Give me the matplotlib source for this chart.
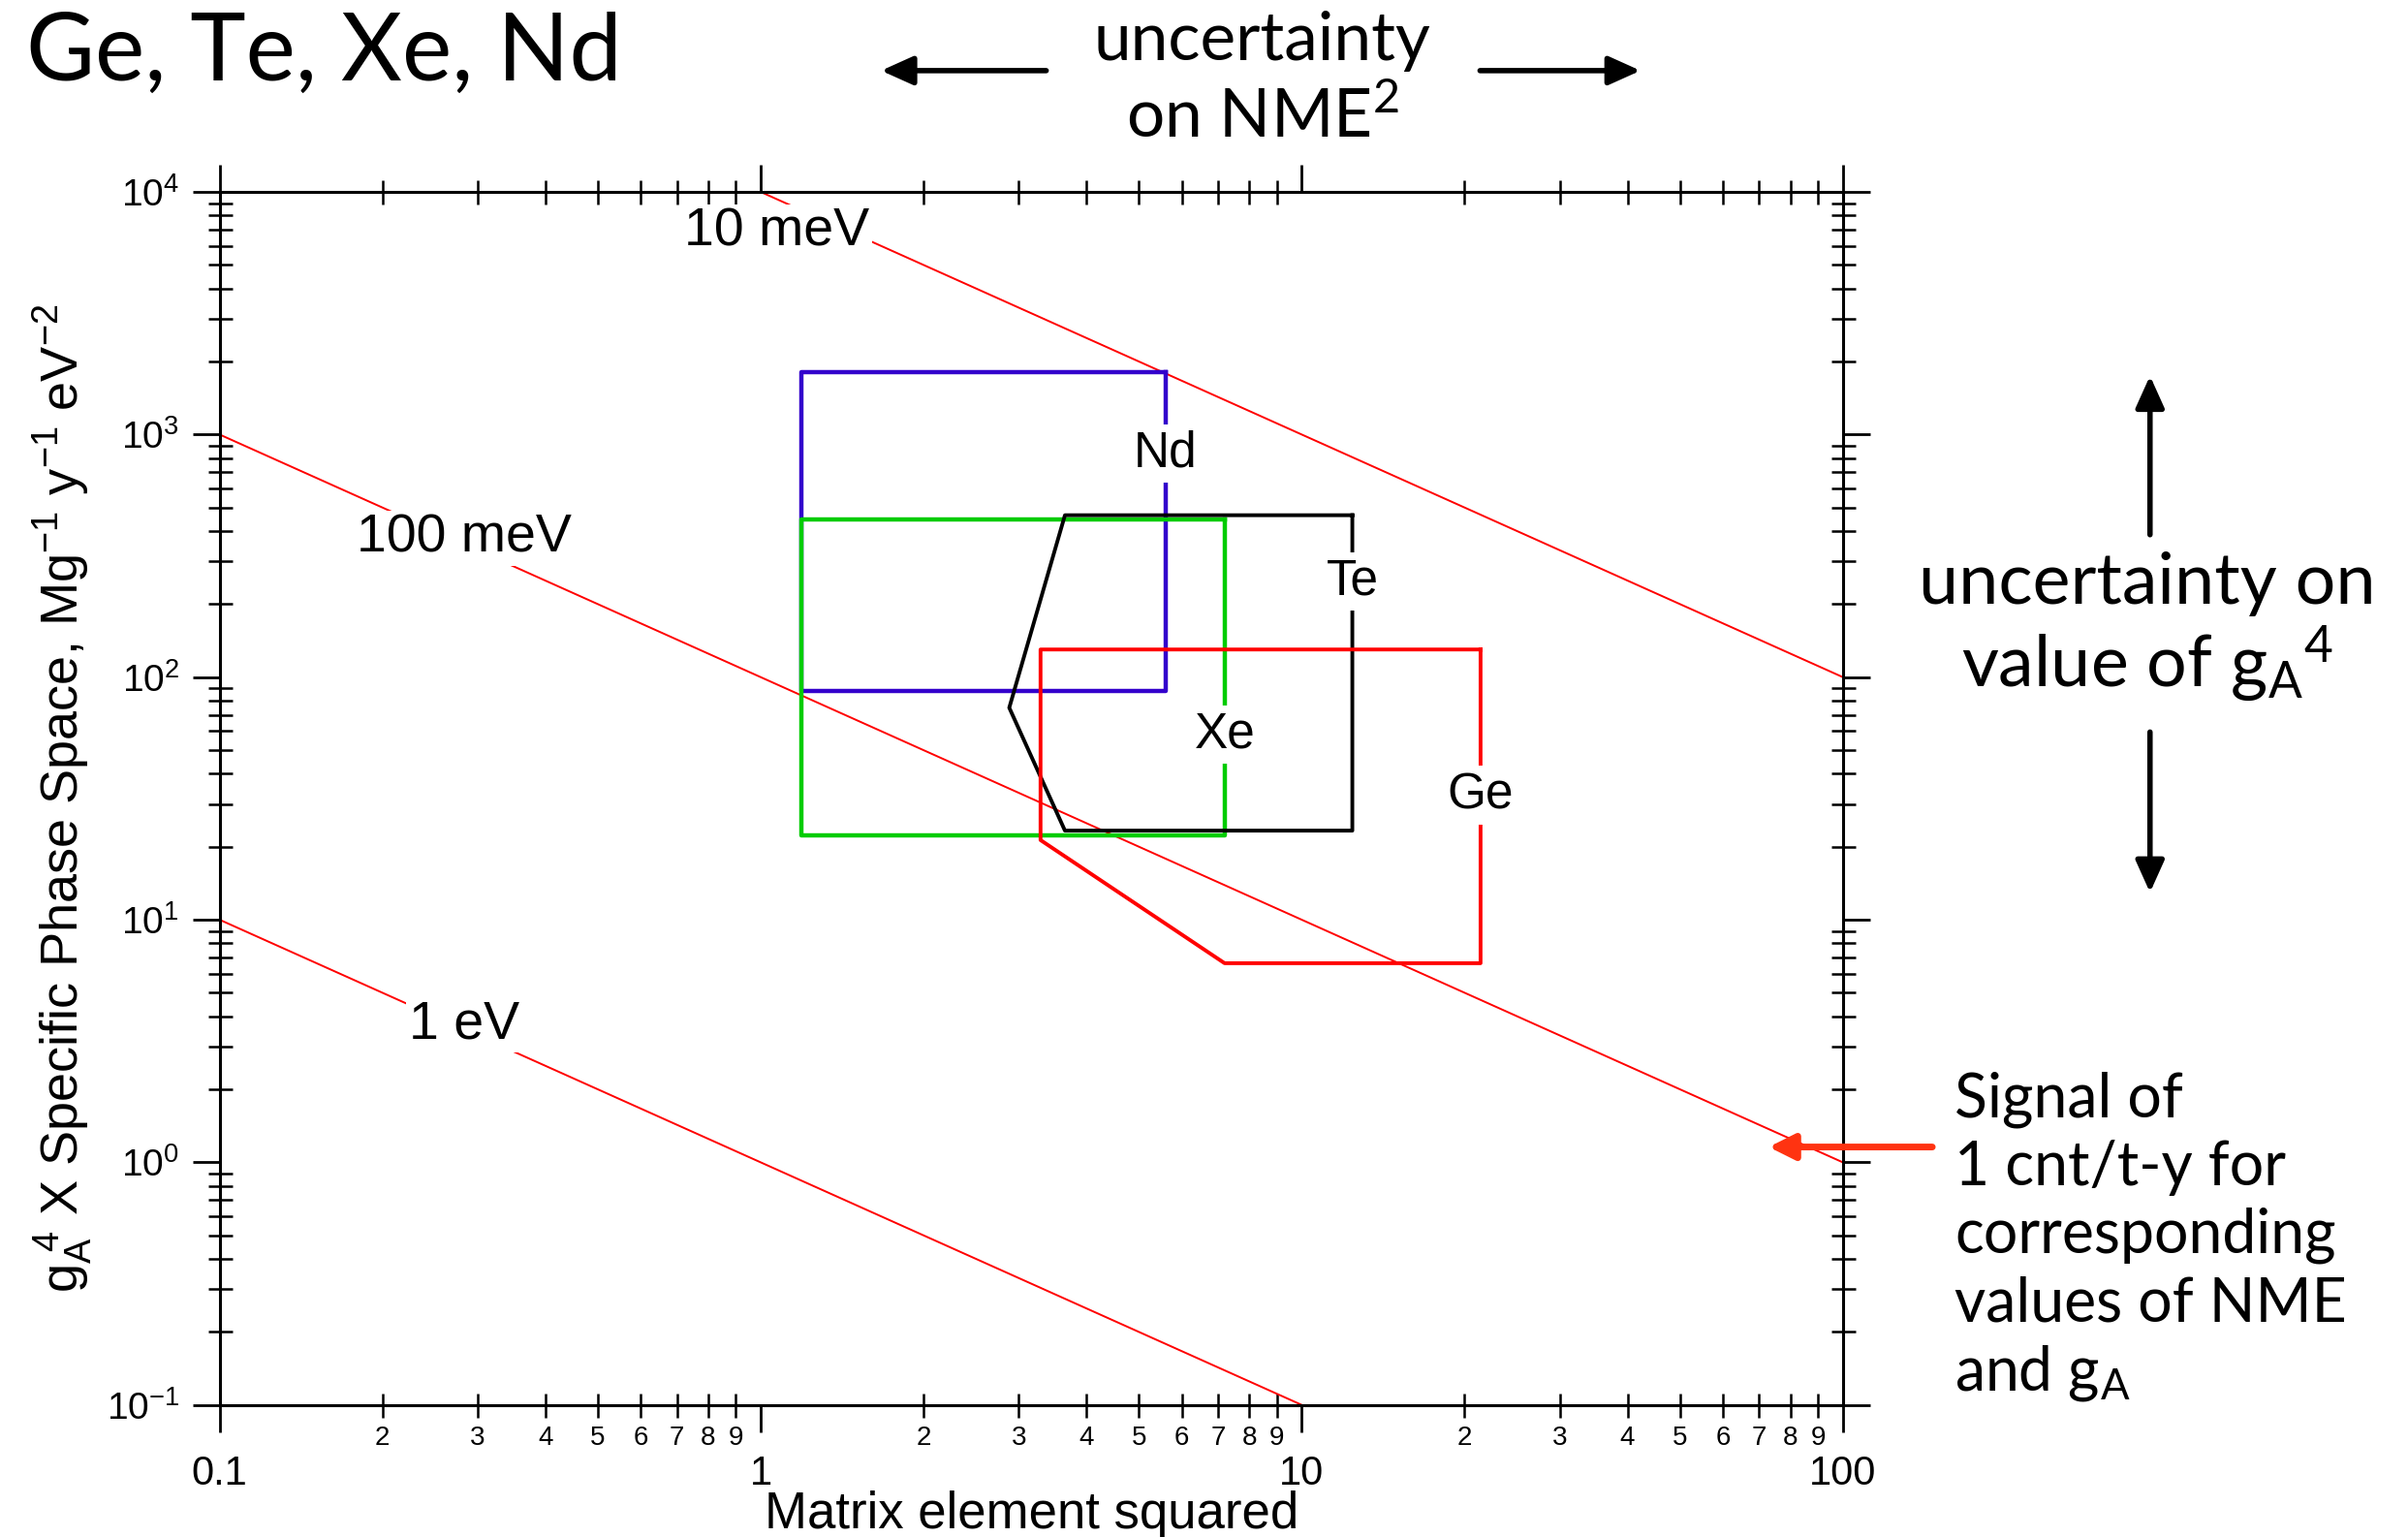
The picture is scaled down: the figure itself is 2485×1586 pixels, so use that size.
import matplotlib
matplotlib.use("Agg")
import matplotlib.pyplot as plt
import numpy as np
from matplotlib import font_manager
from matplotlib.ticker import LogLocator, FixedLocator, FixedFormatter, NullFormatter

# ---------------- data ----------------
# lines of constant effective mass: y = K / x
mass_labels = ["10 meV", "100 meV", "1 eV"]
mass_K = [1e4, 1e2, 1e0]
mass_x_start = [1.0, 0.1, 0.1]
mass_x_end = [100.0, 100.0, 10.0]
mass_label_pos = [(1.07, 6840), (0.283, 373), (0.283, 3.69)]

# isotope regions (matrix element squared, g_A^4 x phase space)
nd_x = [5.6, 1.19, 1.19, 5.6, 5.6]
nd_y = [1810, 1810, 88, 88, 1810]
xe_x = [7.2, 1.19, 1.19, 7.2, 7.2]
xe_y = [445, 445, 22.3, 22.3, 445]
te_x = [12.4, 3.65, 2.88, 3.65, 12.4, 12.4]
te_y = [465, 465, 74.8, 23.3, 23.3, 465]
ge_x = [21.4, 3.29, 3.29, 7.2, 21.4, 21.4]
ge_y = [130, 130, 21.3, 6.62, 6.62, 130]
iso_names = ["Nd", "Te", "Xe", "Ge"]
iso_label_pos = [(5.6, 833), (12.4, 248), (7.2, 58), (21.4, 32.6)]

x_major = [0.1, 1, 10, 100]
x_major_labels = ["0.1", "1", "10", "100"]
x_minor_digits = [2, 3, 4, 5, 6, 7, 8, 9]
y_major = [0.1, 1, 10, 100, 1000, 10000]
y_major_labels = [r"$10^{-1}$", r"$10^{0}$", r"$10^{1}$", r"$10^{2}$", r"$10^{3}$", r"$10^{4}$"]

# ---------------- fonts ----------------
def have(name):
    try:
        font_manager.findfont(font_manager.FontProperties(family=name), fallback_to_default=False)
        return True
    except Exception:
        return False

axfont = "Liberation Sans Narrow" if have("Liberation Sans Narrow") else "Liberation Sans"
slidefont = "Lato" if have("Lato") else "DejaVu Sans"

plt.rcParams["font.family"] = [axfont, "DejaVu Sans"]
plt.rcParams["mathtext.default"] = "regular"

W, H = 2485, 1586
fig = plt.figure(figsize=(W / 100, H / 100), dpi=100)
fig.patch.set_facecolor("white")

def fx(px):
    return px / 1568.0

def fy(py):
    return 1 - py / 1001.0

ax = fig.add_axes([fx(143), fy(915), fx(1200) - fx(143), fy(125) - fy(915)])
ax.set_xscale("log")
ax.set_yscale("log")
ax.set_xlim(0.1, 100)
ax.set_ylim(0.1, 1e4)

for s in ax.spines.values():
    s.set_linewidth(2.2)

# mass lines
for lab, K, x0, x1, pos in zip(mass_labels, mass_K, mass_x_start, mass_x_end, mass_label_pos):
    xs = np.array([x0, x1])
    ax.plot(xs, K / xs, color="red", lw=1.4, zorder=2)
    ax.text(pos[0], pos[1], lab, fontsize=40, ha="center", va="center", zorder=5,
            bbox=dict(facecolor="white", edgecolor="none", pad=2))

# isotope regions
ax.plot(nd_x, nd_y, color="#3300cc", lw=3.2, zorder=3)
ax.plot(xe_x, xe_y, color="#00cc00", lw=3.2, zorder=3)
ax.plot(te_x, te_y, color="black", lw=2.8, zorder=3)
ax.plot(ge_x, ge_y, color="#ff0000", lw=2.8, zorder=3)
for name, pos in zip(iso_names, iso_label_pos):
    ax.text(pos[0], pos[1], name, fontsize=37, ha="center", va="center", zorder=6,
            bbox=dict(facecolor="white", edgecolor="none", pad=4))

# ticks
ax.xaxis.set_major_locator(FixedLocator(x_major))
ax.xaxis.set_major_formatter(FixedFormatter(x_major_labels))
x_minor = [d * m for m in x_major[:-1] for d in x_minor_digits]
ax.xaxis.set_minor_locator(FixedLocator(x_minor))
ax.xaxis.set_minor_formatter(FixedFormatter([str(d) for m in x_major[:-1] for d in x_minor_digits]))
ax.yaxis.set_major_locator(FixedLocator(y_major))
ax.yaxis.set_major_formatter(FixedFormatter(y_major_labels))
ax.yaxis.set_minor_locator(LogLocator(base=10, subs=np.arange(2, 10), numticks=20))
ax.yaxis.set_minor_formatter(NullFormatter())

ax.tick_params(which="major", direction="out", length=20, width=2.0,
               top=True, right=True, labeltop=False, labelright=False)
ax.tick_params(which="minor", direction="inout", length=18, width=1.8,
               top=True, right=True, labeltop=False, labelright=False)
ax.tick_params(axis="x", which="major", labelsize=30, pad=17)
ax.tick_params(axis="x", which="minor", labelsize=20, pad=6)
ax.tick_params(axis="y", which="major", labelsize=28, pad=10)

ax.set_xlabel("Matrix element squared", fontsize=38, labelpad=-2)
ax.set_ylabel(r"$g_A^{\ 4}$ X Specific Phase Space, Mg$^{-1}$ y$^{-1}$ eV$^{-2}$", fontsize=39, labelpad=8)

# ---------------- slide annotations ----------------
fig.text(fx(17), fy(35), "Ge, Te, Xe, Nd", fontsize=70, family=slidefont, ha="left", va="center")

fig.text(fx(822), fy(52), "uncertainty\non NME$^2$", fontsize=50, family=slidefont,
         ha="center", va="center", linespacing=1.3)
arrow_kw = dict(arrowstyle="-|>,head_length=1.0,head_width=0.45", color="black", lw=4)
fig.add_artist(matplotlib.patches.FancyArrowPatch((fx(683), fy(46)), (fx(572), fy(46)),
               transform=fig.transFigure, mutation_scale=20, **arrow_kw))
fig.add_artist(matplotlib.patches.FancyArrowPatch((fx(962), fy(46)), (fx(1070), fy(46)),
               transform=fig.transFigure, mutation_scale=20, **arrow_kw))

fig.text(fx(1398), fy(409), "uncertainty on\nvalue of g$_A$$^4$", fontsize=53, family=slidefont,
         ha="center", va="center", linespacing=1.13)
fig.add_artist(matplotlib.patches.FancyArrowPatch((fx(1400), fy(350)), (fx(1400), fy(243)),
               transform=fig.transFigure, mutation_scale=20, **arrow_kw))
fig.add_artist(matplotlib.patches.FancyArrowPatch((fx(1400), fy(475)), (fx(1400), fy(583)),
               transform=fig.transFigure, mutation_scale=20, **arrow_kw))

fig.text(fx(1273), fy(806), "Signal of\n1 cnt/t-y for\ncorresponding\nvalues of NME\nand g$_A$",
         fontsize=45, family=slidefont, ha="left", va="center", linespacing=1.25)
fig.add_artist(matplotlib.patches.FancyArrowPatch((fx(1260), fy(747)), (fx(1150), fy(747)),
               transform=fig.transFigure, mutation_scale=20,
               arrowstyle="-|>,head_length=0.8,head_width=0.4", color="#ff3311", lw=5))

fig.savefig("out.png", dpi=100, facecolor="white")
